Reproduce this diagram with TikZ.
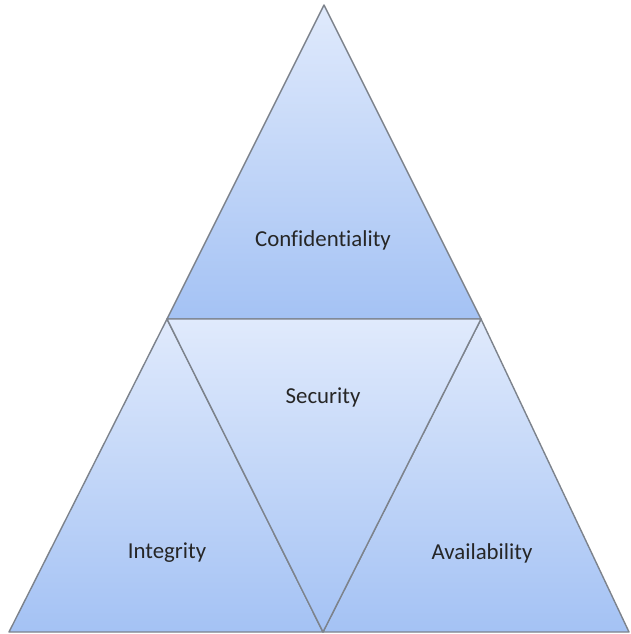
\documentclass[tikz,border=0pt]{standalone}
\usepackage{fontspec}
\setmainfont[Ligatures=CommonOff]{Carlito}
\usepackage{xcolor}
\usepackage{tikz}
\usetikzlibrary{calc}

\definecolor{paleblue}{HTML}{E0EAFC}
\definecolor{deepblue}{HTML}{A4C2F4}
\definecolor{edgegray}{HTML}{7D838C}

\tikzset{
  piece/.style={top color=paleblue, bottom color=deepblue, draw=edgegray, line width=0.8pt, line join=round},
  lbl/.style={font=\fontsize{13}{15}\selectfont, text=black!85}
}

\begin{document}
\begin{tikzpicture}[x=0.02cm, y=-0.02cm]
  \useasboundingbox (0,0) rectangle (630,634);

  % corners
  \coordinate (apex) at (324,5);
  \coordinate (ml) at (167,319);
  \coordinate (mr) at (481,319);
  \coordinate (bl) at (9,632);
  \coordinate (bm) at (323,632);
  \coordinate (br) at (629,632);

  % Confidentiality
  \shade[piece] (apex) -- (mr) -- (ml) -- cycle;
  % Integrity
  \shade[piece] (ml) -- (bm) -- (bl) -- cycle;
  % Availability
  \shade[piece] (mr) -- (br) -- (bm) -- cycle;
  % Security
  \shade[piece] (ml) -- (mr) -- (bm) -- cycle;

  % labels
  \node[lbl] (conf) at (323,240) {Confidentiality};
  \node[lbl] (sec) at (323,397) {Security};
  \node[lbl] (integ) at (167,553) {Integrity};
  \node[lbl] (avail) at (482,553) {Availability};
\end{tikzpicture}
\end{document}
